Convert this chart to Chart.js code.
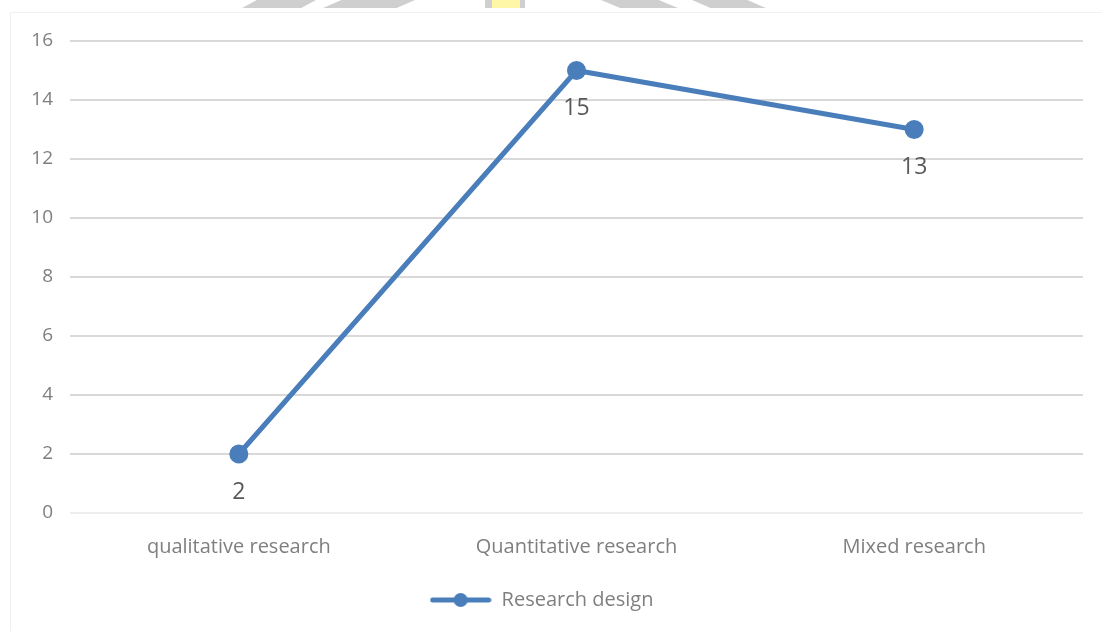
<!DOCTYPE html>
<html>
<head>
<meta charset="utf-8">
<script src="https://cdn.jsdelivr.net/npm/chart.js@4"></script>
<style>
  html, body { margin: 0; padding: 0; background: #fff; }
  #wrap { position: relative; width: 1102px; height: 631px; overflow: hidden; }
  #frame { position: absolute; left: 10px; top: 12px; width: 1100px; height: 620px; border: 1px solid #f0f0f0; box-sizing: border-box; }
  .wm { position: absolute; top: 0; height: 8px; background: #cfcfcf; }
  #chart { position: absolute; left: 0; top: 0; }
</style>
</head>
<body>
<div id="wrap">
  <div id="frame"></div>
  <div class="wm" style="left:242px;width:74px;clip-path:polygon(20% 0,100% 0,80% 100%,0 100%)"></div>
  <div class="wm" style="left:323px;width:92px;clip-path:polygon(20% 0,100% 0,80% 100%,0 100%)"></div>
  <div class="wm" style="left:485px;width:40px;background:linear-gradient(90deg,#cfcfcf 0 18%,#fff7a8 18% 88%,#cfcfcf 88%)"></div>
  <div class="wm" style="left:601px;width:77px;clip-path:polygon(0 0,75% 0,100% 100%,25% 100%)"></div>
  <div class="wm" style="left:692px;width:74px;clip-path:polygon(0 0,75% 0,100% 100%,25% 100%)"></div>
  <canvas id="chart" width="1102" height="631"></canvas>
</div>
<script>
const categories = ['qualitative research', 'Quantitative research', 'Mixed research'];
const designCounts = [2, 15, 13];
const yTicks = [0, 2, 4, 6, 8, 10, 12, 14, 16];

const lineBlue = '#4a7ebb';
const font = "'Open Sans', sans-serif";

// little line + dot swatch for the legend
const swatch = document.createElement('canvas');
swatch.width = 62;
swatch.height = 16;
const sctx = swatch.getContext('2d');
sctx.strokeStyle = lineBlue;
sctx.lineWidth = 5;
sctx.lineCap = 'round';
sctx.beginPath();
sctx.moveTo(3, 8);
sctx.lineTo(59, 8);
sctx.stroke();
sctx.fillStyle = lineBlue;
sctx.beginPath();
sctx.arc(31, 8, 7, 0, Math.PI * 2);
sctx.fill();

const valueLabels = {
  id: 'valueLabels',
  afterDatasetsDraw(chart) {
    const ctx = chart.ctx;
    const meta = chart.getDatasetMeta(0);
    ctx.save();
    ctx.font = '23px ' + font;
    ctx.fillStyle = '#595959';
    ctx.textAlign = 'center';
    ctx.textBaseline = 'middle';
    meta.data.forEach((pt, i) => {
      ctx.fillText(String(designCounts[i]), pt.x, pt.y + 38);
    });
    ctx.restore();
  },
};

const designChart = new Chart('chart', {
  type: 'line',
  data: {
    labels: categories,
    datasets: [{
      label: 'Research design',
      data: designCounts,
      borderColor: lineBlue,
      backgroundColor: lineBlue,
      borderWidth: 5,
      pointRadius: 7,
      pointHoverRadius: 7,
      tension: 0,
    }],
  },
  options: {
    responsive: false,
    animation: false,
    layout: { padding: { left: 0, right: 19, top: 41, bottom: 11 } },
    scales: {
      x: {
        offset: true,
        grid: { display: false },
        border: { display: false },
        ticks: { color: '#7f7f7f', font: { family: font, size: 20 }, padding: 14 },
        afterFit(scale) { scale.height = 68; },
      },
      y: {
        min: 0,
        max: 16,
        afterBuildTicks(scale) { scale.ticks = yTicks.map(v => ({ value: v })); },
        grid: {
          color: (c) => (c.tick && c.tick.value === 0 ? '#eeeeee' : '#d9d9d9'),
          lineWidth: 2,
          drawTicks: false,
        },
        border: { display: false },
        ticks: { color: '#7f7f7f', font: { family: font, size: 19 }, padding: 17 },
        afterFit(scale) { scale.width = 70; },
      },
    },
    plugins: {
      legend: {
        position: 'bottom',
        labels: {
          color: '#7f7f7f',
          font: { family: font, size: 20 },
          usePointStyle: true,
          pointStyleWidth: 62,
          padding: 9,
          generateLabels: (chart) => [{
            text: chart.data.datasets[0].label,
            pointStyle: swatch,
            fontColor: '#7f7f7f',
            datasetIndex: 0,
            lineWidth: 0,
          }],
        },
      },
      tooltip: { enabled: false },
    },
  },
  plugins: [valueLabels],
});
</script>
</body>
</html>
